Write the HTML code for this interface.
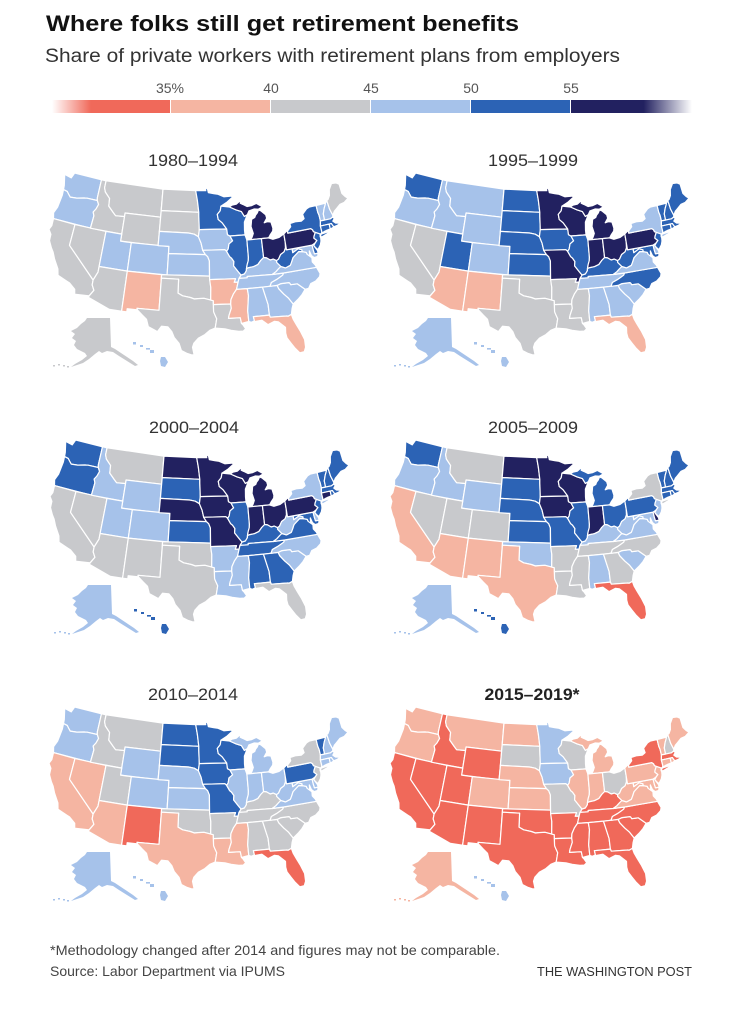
<!DOCTYPE html>
<html><head><meta charset="utf-8">
<style>
html,body{margin:0;padding:0;background:#fff;}
svg{display:block;}
text{font-family:"Liberation Sans",Arial,sans-serif;}
</style></head>
<body>
<svg id="root" width="735" height="1024" viewBox="0 0 735 1024">
<defs>
<linearGradient id="gl" x1="0" x2="1" y1="0" y2="0">
<stop offset="0" stop-color="#f0695a" stop-opacity="0"/>
<stop offset="0.33" stop-color="#f0695a" stop-opacity="1"/>
<stop offset="1" stop-color="#f0695a" stop-opacity="1"/>
</linearGradient>
<linearGradient id="gr" x1="0" x2="1" y1="0" y2="0">
<stop offset="0" stop-color="#222160" stop-opacity="1"/>
<stop offset="0.6" stop-color="#222160" stop-opacity="1"/>
<stop offset="1" stop-color="#222160" stop-opacity="0"/>
</linearGradient>
</defs>
<rect width="735" height="1024" fill="#fff"/>
<text x="46" y="31" font-size="22" font-weight="bold" fill="#111" textLength="473" lengthAdjust="spacingAndGlyphs">Where folks still get retirement benefits</text>
<text x="45" y="62" font-size="19" fill="#333" textLength="575" lengthAdjust="spacingAndGlyphs">Share of private workers with retirement plans from employers</text>

<g font-size="14" fill="#555" text-anchor="middle">
<text x="170" y="93">35%</text>
<text x="271" y="93">40</text>
<text x="371" y="93">45</text>
<text x="471" y="93">50</text>
<text x="571" y="93">55</text>
</g>
<rect x="52" y="100" width="118" height="13" fill="url(#gl)"/>
<rect x="171" y="100" width="99" height="13" fill="#f5b5a2"/>
<rect x="271" y="100" width="99" height="13" fill="#c8c9cc"/>
<rect x="371" y="100" width="99" height="13" fill="#a6c2ea"/>
<rect x="471" y="100" width="99" height="13" fill="#2c63b5"/>
<rect x="571" y="100" width="121" height="13" fill="url(#gr)"/>

<g font-size="17" fill="#333" text-anchor="middle">
<text x="193" y="166" textLength="90" lengthAdjust="spacingAndGlyphs">1980–1994</text>
<text x="533" y="166" textLength="90" lengthAdjust="spacingAndGlyphs">1995–1999</text>
<text x="194" y="433" textLength="90" lengthAdjust="spacingAndGlyphs">2000–2004</text>
<text x="533" y="433" textLength="90" lengthAdjust="spacingAndGlyphs">2005–2009</text>
<text x="193" y="700" textLength="90" lengthAdjust="spacingAndGlyphs">2010–2014</text>
<text x="532" y="700" font-weight="bold" fill="#222" textLength="95" lengthAdjust="spacingAndGlyphs">2015–2019*</text>
</g>

<g id="maps"></g>

<text x="50" y="955" font-size="14" fill="#444" textLength="450" lengthAdjust="spacingAndGlyphs">*Methodology changed after 2014 and figures may not be comparable.</text>
<text x="50" y="976" font-size="14" fill="#444" textLength="235" lengthAdjust="spacingAndGlyphs">Source: Labor Department via IPUMS</text>
<text x="537" y="976" font-size="13" fill="#333" textLength="155" lengthAdjust="spacingAndGlyphs">THE WASHINGTON POST</text>
</svg>
<script>
(function(){
var D=Math.PI/180,p1=29.5*D,p2=45.5*D,n=(Math.sin(p1)+Math.sin(p2))/2,C=Math.cos(p1)*Math.cos(p1)+2*n*Math.sin(p1),L0=-96;
function pr(q){var r=Math.sqrt(C-2*n*Math.sin(q[1]*D))/n,t=n*(q[0]-L0)*D;return [r*Math.sin(t),r*Math.cos(t)];}
var G={
WA:[[[-124.7,48.4],[-123.2,48.2],[-122.8,49],[-117.03,49],[-117.03,46.4],[-116.92,46.0],[-119,46.0],[-119.6,45.92],[-121,45.65],[-122.3,45.55],[-122.8,45.9],[-123.2,46.2],[-124,46.3],[-124.1,46.9]]],
OR:[[[-124,46.3],[-123.2,46.2],[-122.8,45.9],[-122.3,45.55],[-121,45.65],[-119.6,45.92],[-119,46.0],[-116.92,46.0],[-116.5,45.5],[-116.8,44.8],[-117.2,44.3],[-116.9,43.8],[-117.03,42],[-124.2,42],[-124.5,42.8],[-124.1,43.7],[-123.9,45.5]]],
CA:[[[-124.2,42],[-120,42],[-120,39],[-114.6,35.0],[-114.6,34.3],[-114.13,33.6],[-114.72,32.72],[-117.12,32.53],[-117.3,33.2],[-118.4,33.9],[-118.9,34.05],[-120.6,34.55],[-120.9,35.4],[-121.9,36.6],[-122.5,37.5],[-123,38],[-123.7,38.9],[-123.8,39.8],[-124.4,40.4],[-124.1,41]]],
NV:[[[-120,42],[-114.04,42],[-114.04,36.2],[-114.6,35.0],[-120,39]]],
ID:[[[-117.03,49],[-116.05,49],[-116.05,47.98],[-115.7,47.42],[-114.6,46.64],[-114.45,45.56],[-113.45,44.85],[-112.8,44.4],[-111.05,44.5],[-111.05,42],[-117.03,42],[-116.9,43.8],[-117.2,44.3],[-116.8,44.8],[-116.5,45.5],[-116.92,46.0],[-117.03,46.4]]],
MT:[[[-116.05,49],[-104.05,49],[-104.05,45],[-111.05,45],[-111.05,44.5],[-112.8,44.4],[-113.45,44.85],[-114.45,45.56],[-114.6,46.64],[-115.7,47.42],[-116.05,47.98]]],
WY:[[[-111.05,45],[-104.05,45],[-104.05,41],[-111.05,41]]],
UT:[[[-114.04,42],[-111.05,42],[-111.05,41],[-109.05,41],[-109.05,37],[-114.04,37]]],
CO:[[[-109.05,41],[-102.05,41],[-102.05,37],[-109.05,37]]],
AZ:[[[-114.04,37],[-109.05,37],[-109.05,31.33],[-111.07,31.33],[-114.82,32.49],[-114.72,32.72],[-114.13,33.6],[-114.6,34.3],[-114.6,35.0],[-114.04,36.2]]],
NM:[[[-109.05,37],[-103,37],[-103,32],[-106.62,32],[-106.53,31.78],[-108.2,31.78],[-108.2,31.33],[-109.05,31.33]]],
ND:[[[-104.05,49],[-97.23,49],[-96.85,47.6],[-96.56,45.94],[-104.05,45.94]]],
SD:[[[-104.05,45.94],[-96.56,45.94],[-96.56,45.4],[-96.45,43.5],[-96.6,42.5],[-97.4,42.85],[-98.5,43],[-104.05,43]]],
NE:[[[-104.05,43],[-98.5,43],[-97.4,42.85],[-96.6,42.5],[-96.1,41.6],[-95.8,40.6],[-95.31,40],[-102.05,40],[-102.05,41],[-104.05,41]]],
KS:[[[-102.05,40],[-95.31,40],[-94.9,39.7],[-94.6,39.1],[-94.62,37],[-102.05,37]]],
OK:[[[-103,37],[-94.62,37],[-94.43,35.4],[-94.48,33.64],[-95.6,33.9],[-96.6,33.85],[-97.2,33.8],[-97.9,34],[-99.2,34.2],[-100,34.56],[-100,36.5],[-103,36.5]]],
TX:[[[-106.62,32],[-103,32],[-103,36.5],[-100,36.5],[-100,34.56],[-99.2,34.2],[-97.9,34],[-97.2,33.8],[-96.6,33.85],[-95.6,33.9],[-94.48,33.64],[-94.04,33.55],[-94.04,32],[-93.8,31.5],[-93.55,31],[-93.7,30.3],[-93.84,29.7],[-94.7,29.4],[-95.5,28.8],[-96.5,28.3],[-97.2,27.6],[-97.4,27],[-97.15,25.95],[-97.5,25.9],[-98.2,26.1],[-99.1,26.5],[-99.5,27.5],[-100.3,28.3],[-100.7,29.1],[-101.4,29.77],[-102.4,29.8],[-103,29],[-103.5,29.2],[-104.5,29.6],[-104.9,30.6],[-105.6,31.1],[-106.53,31.78]]],
MN:[[[-97.23,49],[-95.15,49],[-95.15,49.38],[-94.8,49.3],[-94.6,48.7],[-93.5,48.55],[-92.6,48.45],[-91.4,48.05],[-90,48.1],[-89.6,47.98],[-90.8,47.3],[-92.1,46.75],[-92.3,46.1],[-92.9,45.6],[-92.75,44.9],[-92.0,44.4],[-91.2,43.5],[-96.45,43.5],[-96.56,45.4],[-96.56,45.94],[-96.85,47.6]]],
IA:[[[-96.45,43.5],[-91.2,43.5],[-91.1,42.7],[-90.64,42.5],[-90.2,41.8],[-90.9,41.4],[-91.1,40.7],[-91.42,40.38],[-91.73,40.61],[-95.8,40.6],[-96.1,41.6],[-96.6,42.5]]],
MO:[[[-95.8,40.6],[-91.73,40.61],[-91.42,40.38],[-90.9,39.6],[-90.6,39.4],[-90.2,38.9],[-90.3,38.3],[-89.5,37.4],[-89.1,36.95],[-89.5,36.5],[-89.7,36],[-90.37,36],[-90.1,36.5],[-94.62,36.5],[-94.6,39.1],[-94.9,39.7],[-95.31,40]]],
AR:[[[-94.62,36.5],[-90.1,36.5],[-90.37,36],[-89.7,36],[-90.05,35],[-90.6,34.4],[-91.1,33.6],[-91.17,33],[-94.04,33],[-94.04,33.55],[-94.48,33.64],[-94.43,35.4]]],
LA:[[[-94.04,33],[-91.17,33],[-91.1,32.4],[-91.55,31.4],[-91.64,31],[-89.73,31],[-89.6,30.2],[-89.4,30],[-89.0,29.4],[-89.4,29.1],[-90.1,29.1],[-91.3,29.3],[-92.3,29.55],[-93.84,29.7],[-93.7,30.3],[-93.55,31],[-93.8,31.5],[-94.04,32]]],
WI:[[[-92.1,46.75],[-90.4,46.57],[-89.1,46.1],[-88.1,45.8],[-87.6,45.1],[-87.0,45.3],[-87.7,44.3],[-87.8,43.2],[-87.8,42.5],[-90.64,42.5],[-91.1,42.7],[-91.2,43.5],[-92.0,44.4],[-92.75,44.9],[-92.9,45.6],[-92.3,46.1]]],
IL:[[[-90.64,42.5],[-87.8,42.5],[-87.53,41.76],[-87.53,39.35],[-87.6,38.9],[-87.9,38.3],[-88.05,37.8],[-88.1,37.5],[-88.5,37.07],[-89.1,36.95],[-89.5,37.4],[-90.3,38.3],[-90.2,38.9],[-90.6,39.4],[-90.9,39.6],[-91.42,40.38],[-91.1,40.7],[-90.9,41.4],[-90.2,41.8]]],
MI:[[[-86.82,41.76],[-84.8,41.76],[-83.45,41.73],[-83.1,42.1],[-82.5,42.6],[-82.4,43.0],[-82.6,43.9],[-83.3,44.0],[-83.9,43.9],[-83.3,44.5],[-83.4,45.0],[-84.2,45.6],[-84.7,45.8],[-85.0,45.4],[-85.4,45.1],[-85.6,44.8],[-86.25,44.6],[-86.4,44.0],[-86.5,43.6],[-86.2,42.6],[-86.5,42.1]],
[[-90.4,46.57],[-89.1,46.1],[-88.1,45.8],[-87.6,45.1],[-87.0,45.3],[-86.6,45.8],[-85.5,46.0],[-84.7,45.9],[-84.1,46.1],[-83.9,46.2],[-84.5,46.5],[-85,46.75],[-86,46.5],[-86.9,46.45],[-87.7,46.8],[-88.2,47.0],[-88.0,47.45],[-89.0,46.9],[-89.9,46.8]]],
IN:[[[-87.53,41.76],[-84.8,41.76],[-84.82,39.1],[-85.4,38.73],[-86.0,38.2],[-86.8,37.97],[-87.6,37.9],[-88.05,37.8],[-87.9,38.3],[-87.6,38.9],[-87.53,39.35]]],
OH:[[[-84.8,41.76],[-83.45,41.73],[-82.7,41.45],[-81.5,41.6],[-80.52,41.98],[-80.52,40.64],[-80.65,40.0],[-81.0,39.5],[-81.7,39.2],[-82.2,38.6],[-82.6,38.42],[-83.1,38.7],[-83.7,38.64],[-84.3,39],[-84.82,39.1]]],
KY:[[[-89.5,36.5],[-89.1,36.95],[-88.5,37.07],[-88.1,37.5],[-88.05,37.8],[-87.6,37.9],[-86.8,37.97],[-86.0,38.2],[-85.4,38.73],[-84.82,39.1],[-84.3,39],[-83.7,38.64],[-83.1,38.7],[-82.6,38.42],[-82.6,38.17],[-82.0,37.55],[-81.97,37.54],[-82.4,37.3],[-83.0,36.9],[-83.68,36.6],[-88.05,36.68],[-88.07,36.5]]],
TN:[[[-90.05,35],[-89.7,36],[-89.5,36.5],[-88.07,36.5],[-88.05,36.68],[-83.68,36.6],[-81.68,36.59],[-81.9,36.3],[-82.6,36],[-83.1,35.8],[-84.0,35.5],[-84.32,35.0],[-88.2,35]]],
MS:[[[-91.17,33],[-91.1,33.6],[-90.6,34.4],[-90.05,35],[-88.2,35],[-88.1,34.0],[-88.45,31.9],[-88.4,30.4],[-89.6,30.2],[-89.73,31],[-91.64,31],[-91.55,31.4],[-91.1,32.4]]],
AL:[[[-88.2,35],[-85.6,35],[-85.0,32.5],[-85.0,31.0],[-87.6,31],[-87.5,30.4],[-88.0,30.25],[-88.4,30.4],[-88.45,31.9],[-88.1,34.0]]],
GA:[[[-85.6,35],[-83.1,35],[-82.9,34.5],[-82.2,33.7],[-81.5,33.0],[-80.9,32.1],[-81.2,31.5],[-81.45,30.7],[-82.05,30.5],[-82.2,30.57],[-84.9,30.7],[-85.0,31.0],[-85.0,32.5]]],
FL:[[[-87.6,31],[-85.0,31],[-84.9,30.7],[-82.2,30.57],[-82.05,30.5],[-81.45,30.7],[-81.3,30],[-80.9,29.1],[-80.5,28.2],[-80.05,26.9],[-80.1,25.8],[-80.4,25.2],[-81.1,25.15],[-81.7,25.9],[-82.2,26.7],[-82.7,27.5],[-82.8,28.2],[-82.7,29.0],[-83.7,29.9],[-84.3,30.05],[-85.4,29.7],[-86.3,30.4],[-87.5,30.3],[-87.5,30.4]]],
SC:[[[-83.1,35],[-82.4,35.18],[-81.05,35.15],[-80.93,35.1],[-80.78,34.82],[-79.68,34.8],[-78.54,33.85],[-79.2,33.2],[-79.9,32.7],[-80.9,32.1],[-81.5,33.0],[-82.2,33.7],[-82.9,34.5]]],
NC:[[[-84.32,35.0],[-84.0,35.5],[-83.1,35.8],[-82.6,36],[-81.9,36.3],[-81.68,36.59],[-75.87,36.55],[-75.5,35.6],[-75.7,35.2],[-76.5,34.7],[-77.4,34.5],[-77.9,33.9],[-78.54,33.85],[-79.68,34.8],[-80.78,34.82],[-80.93,35.1],[-81.05,35.15],[-82.4,35.18],[-83.1,35]]],
VA:[[[-83.68,36.6],[-83.0,36.9],[-82.4,37.3],[-81.97,37.54],[-81.2,37.25],[-80.3,37.5],[-80.0,37.9],[-79.6,38.5],[-79.1,38.8],[-78.4,39.2],[-77.8,39.1],[-77.1,38.9],[-77.0,38.6],[-76.3,38.0],[-76.4,37.4],[-76.0,36.9],[-75.87,36.55],[-81.68,36.59]]],
WV:[[[-82.6,38.17],[-82.6,38.42],[-82.2,38.6],[-81.7,39.2],[-81.0,39.5],[-80.65,40.0],[-80.52,40.64],[-80.52,39.72],[-79.48,39.72],[-79.48,39.2],[-78.4,39.6],[-77.75,39.35],[-77.8,39.1],[-78.4,39.2],[-79.1,38.8],[-79.6,38.5],[-80.0,37.9],[-80.3,37.5],[-81.2,37.25],[-81.97,37.54],[-82.0,37.55]]],
MD:[[[-79.48,39.72],[-75.79,39.72],[-75.77,39.0],[-75.7,38.46],[-75.05,38.45],[-75.25,38.0],[-75.9,37.95],[-76.3,38.3],[-76.5,39.0],[-76.6,38.4],[-76.3,38.0],[-77.0,38.6],[-77.1,38.9],[-77.8,39.1],[-77.75,39.35],[-78.4,39.6],[-79.48,39.2]]],
DE:[[[-75.79,39.72],[-75.4,39.83],[-75.5,39.6],[-75.05,38.8],[-75.05,38.45],[-75.7,38.46],[-75.77,39.0]]],
PA:[[[-80.52,41.98],[-80.0,42.27],[-79.76,42.27],[-79.76,42.0],[-75.36,42.0],[-75.1,41.8],[-75.0,41.5],[-74.7,41.36],[-75.1,40.85],[-75.2,40.6],[-74.75,40.2],[-75.1,39.95],[-75.4,39.83],[-75.79,39.72],[-80.52,39.72],[-80.52,40.64]]],
NJ:[[[-75.1,40.85],[-74.7,41.36],[-73.9,40.99],[-74.0,40.7],[-73.95,40.45],[-74.05,40.0],[-74.3,39.5],[-74.95,38.93],[-75.3,39.3],[-75.5,39.6],[-75.1,39.95],[-74.75,40.2],[-75.2,40.6]]],
NY:[[[-79.76,42.0],[-79.76,42.27],[-79.0,42.8],[-79.05,43.25],[-78.0,43.37],[-76.8,43.3],[-76.2,43.55],[-76.3,44.2],[-75.3,44.85],[-74.7,45.0],[-73.35,45.0],[-73.35,44.0],[-73.25,43.55],[-73.27,42.75],[-73.5,42.05],[-73.48,41.2],[-73.65,41.0],[-73.9,40.99],[-74.7,41.36],[-75.0,41.5],[-75.1,41.8],[-75.36,42.0]],
[[-74.0,40.6],[-73.7,40.95],[-72.8,40.98],[-71.85,41.08],[-72.6,40.8],[-73.6,40.55]]],
VT:[[[-73.35,45.0],[-71.5,45.0],[-71.5,44.9],[-72.0,44.3],[-72.4,43.6],[-72.45,42.73],[-73.27,42.75],[-73.25,43.55],[-73.35,44.0]]],
NH:[[[-71.5,45.0],[-71.08,45.3],[-70.98,44.0],[-70.7,43.1],[-70.82,42.87],[-71.3,42.7],[-72.45,42.73],[-72.4,43.6],[-72.0,44.3],[-71.5,44.9]]],
ME:[[[-71.08,45.3],[-70.8,45.4],[-70.3,45.9],[-70.0,46.7],[-69.23,47.45],[-68.3,47.35],[-67.8,47.06],[-67.8,45.7],[-67.4,45.15],[-66.95,44.8],[-67.9,44.4],[-68.8,44.3],[-69.8,43.8],[-70.2,43.6],[-70.7,43.1],[-70.98,44.0]]],
MA:[[[-73.5,42.05],[-73.27,42.75],[-72.45,42.73],[-71.3,42.7],[-70.82,42.87],[-70.6,42.6],[-71.0,42.3],[-70.6,41.95],[-70.0,41.8],[-70.05,42.05],[-69.93,41.68],[-70.5,41.55],[-71.12,41.5],[-71.38,41.9],[-71.38,42.02],[-71.8,42.02]]],
CT:[[[-73.5,42.05],[-71.8,42.02],[-71.85,41.32],[-72.5,41.27],[-73.0,41.2],[-73.65,41.0],[-73.48,41.2]]],
RI:[[[-71.8,42.02],[-71.38,42.02],[-71.12,41.5],[-71.4,41.4],[-71.85,41.32]]]
};
var AK=[[38,145],[61,145],[62,174],[66,176],[75,182],[84,188],[89,192],[86,193],[78,188],[70,183],[64,179],[58,178],[53,180],[50,178],[46,181],[40,186],[34,190],[28,192],[22,194],[26,191],[33,187],[38,183],[36,180],[32,178],[28,176],[25,172],[27,168],[23,165],[26,161],[22,158],[28,155],[32,151],[36,148]];
var AKdots=[[4,192],[9,191],[14,192],[18,193]];
var HI=[[84,169,3,2.5],[91,172,3,2],[97,175,4,1.6],[101,177,4,3]];
var HIbig=[[112,184],[116,184],[119,189],[116,194],[112,193],[111,188]];
var P={},minX=1e9,maxX=-1e9,minY=1e9,maxY=-1e9;
for(var k in G){P[k]=G[k].map(function(poly){return poly.map(function(q){var a=pr(q);if(a[0]<minX)minX=a[0];if(a[0]>maxX)maxX=a[0];if(a[1]<minY)minY=a[1];if(a[1]>maxY)maxY=a[1];return a;});});}
var col={R:'#f0695a',S:'#f5b5a2',G:'#c8c9cc',L:'#a6c2ea',B:'#2c63b5',N:'#222160'};
var maps=[
{x:49,y:173,c:"WA:L OR:L CA:G NV:G ID:G MT:G WY:G UT:L CO:L AZ:G NM:S ND:G SD:G NE:L KS:L OK:G TX:G MN:B IA:L MO:L AR:S LA:G WI:B IL:B MI:N IN:B OH:N KY:L TN:L MS:S AL:L GA:L FL:S SC:L NC:L VA:L WV:B MD:L DE:B PA:N NJ:B NY:B VT:L NH:L ME:G MA:B CT:B RI:B AK:G HI:L"},
{x:390,y:173,c:"WA:B OR:L CA:G NV:G ID:L MT:L WY:L UT:B CO:L AZ:S NM:S ND:B SD:B NE:B KS:B OK:G TX:G MN:N IA:B MO:N AR:G LA:G WI:N IL:B MI:N IN:N OH:N KY:B TN:L MS:G AL:L GA:L FL:S SC:L NC:B VA:L WV:B MD:B DE:L PA:N NJ:B NY:L VT:B NH:B ME:B MA:B CT:B RI:B AK:L HI:L"},
{x:50,y:440,c:"WA:B OR:B CA:G NV:G ID:L MT:G WY:L UT:L CO:L AZ:G NM:G ND:N SD:B NE:N KS:B OK:G TX:G MN:N IA:N MO:N AR:L LA:L WI:N IL:B MI:N IN:N OH:N KY:B TN:B MS:L AL:B GA:B FL:G SC:L NC:L VA:B WV:L MD:B DE:L PA:N NJ:B NY:L VT:B NH:B ME:B MA:B CT:N RI:B AK:L HI:B"},
{x:390,y:440,c:"WA:B OR:L CA:S NV:G ID:L MT:G WY:L UT:G CO:G AZ:S NM:S ND:N SD:B NE:B KS:B OK:L TX:S MN:N IA:N MO:B AR:G LA:G WI:N IL:B MI:B IN:N OH:B KY:L TN:G MS:G AL:L GA:G FL:R SC:L NC:G VA:L WV:L MD:L DE:N PA:B NJ:L NY:G VT:B NH:B ME:B MA:B CT:B RI:B AK:L HI:B"},
{x:49,y:707,c:"WA:L OR:L CA:S NV:S ID:G MT:G WY:L UT:G CO:L AZ:S NM:R ND:B SD:B NE:L KS:L OK:G TX:S MN:B IA:B MO:B AR:G LA:S WI:B IL:L MI:L IN:L OH:L KY:G TN:G MS:S AL:G GA:G FL:R SC:G NC:G VA:L WV:L MD:L DE:L PA:B NJ:G NY:G VT:B NH:L ME:L MA:L CT:L RI:L AK:L HI:L"},
{x:390,y:707,c:"WA:S OR:S CA:R NV:R ID:R MT:S WY:R UT:R CO:S AZ:R NM:R ND:S SD:G NE:S KS:S OK:R TX:R MN:L IA:L MO:G AR:R LA:R WI:G IL:S MI:S IN:S OH:G KY:R TN:R MS:R AL:R GA:R FL:R SC:R NC:R VA:S WV:S MD:S DE:S PA:S NJ:S NY:R VT:S NH:G ME:S MA:R CT:S RI:S AK:S HI:L"}
];
var W=299,H=182,sx=W/(maxX-minX),sy=H/(maxY-minY);
var out='';
maps.forEach(function(m){
  var cm={};m.c.split(' ').forEach(function(t){var a=t.split(':');cm[a[0]]=col[a[1]];});
  out+='<g stroke="#fff" stroke-width="1.2" stroke-linejoin="round">';
  for(var k in P){
    var d='';
    P[k].forEach(function(poly){d+='M'+poly.map(function(a){return ((m.x+(a[0]-minX)*sx).toFixed(1))+','+((m.y+(a[1]-minY)*sy).toFixed(1));}).join('L')+'Z';});
    out+='<path d="'+d+'" fill="'+cm[k]+'"/>';
  }
  out+='</g>';
  var ak=cm.AK, hi=cm.HI;
  out+='<g transform="translate('+m.x+','+m.y+')">';
  out+='<path d="M'+AK.map(function(a){return a[0]+','+a[1];}).join('L')+'Z" fill="'+ak+'"/>';
  AKdots.forEach(function(a){out+='<rect x="'+a[0]+'" y="'+a[1]+'" width="2" height="1.5" fill="'+ak+'"/>';});
  HI.forEach(function(a){out+='<rect x="'+a[0]+'" y="'+a[1]+'" width="'+a[2]+'" height="'+a[3]+'" fill="'+hi+'"/>';});
  out+='<path d="M'+HIbig.map(function(a){return a[0]+','+a[1];}).join('L')+'Z" fill="'+hi+'"/>';
  out+='</g>';
});
document.getElementById('maps').innerHTML=out;
})();
</script>
</body></html>
